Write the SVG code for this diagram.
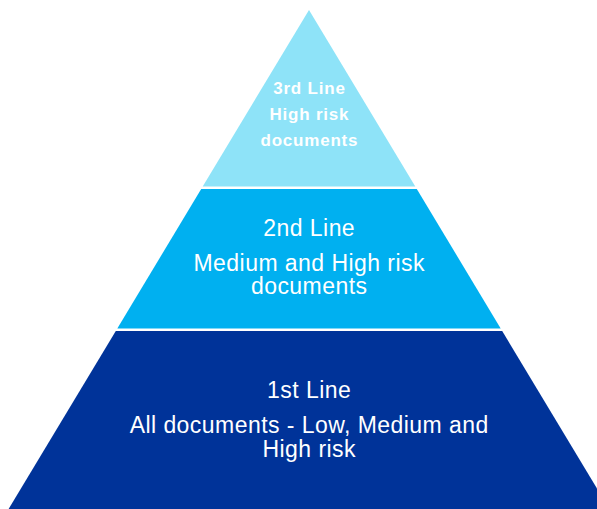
<svg xmlns="http://www.w3.org/2000/svg" width="597" height="509" viewBox="0 0 597 509">
  <style>
    .lbl { font-family: "Liberation Sans", Arial, sans-serif; fill: #ffffff; text-anchor: middle; }
    .top { font-size: 17px; font-weight: bold; letter-spacing: 0.8px; }
    .big { font-size: 23px; letter-spacing: 0.45px; }
  </style>
  <rect width="597" height="509" fill="#ffffff"/>
  <g id="tier3">
    <polygon points="309,10 415.3,186.5 202.7,186.5" fill="#8EE3F8"/>
    <text class="lbl top" x="309.4" y="94">3rd Line</text>
    <text class="lbl top" x="309.4" y="120">High risk</text>
    <text class="lbl top" x="309.4" y="146">documents</text>
  </g>
  <g id="tier2">
    <polygon points="201.2,189 416.8,189 500.7,328.5 117.3,328.5" fill="#00B0F0"/>
    <text class="lbl big" x="309.2" y="236">2nd Line</text>
    <text class="lbl big" x="309.2" y="271">Medium and High risk</text>
    <text class="lbl big" x="309.2" y="294">documents</text>
  </g>
  <g id="tier1">
    <polygon points="115.8,331 502.2,331 609.4,509 8.6,509" fill="#003399"/>
    <text class="lbl big" x="309.2" y="398">1st Line</text>
    <text class="lbl big" x="309.2" y="432.7">All documents - Low, Medium and</text>
    <text class="lbl big" x="309.2" y="457.3">High risk</text>
  </g>
</svg>
